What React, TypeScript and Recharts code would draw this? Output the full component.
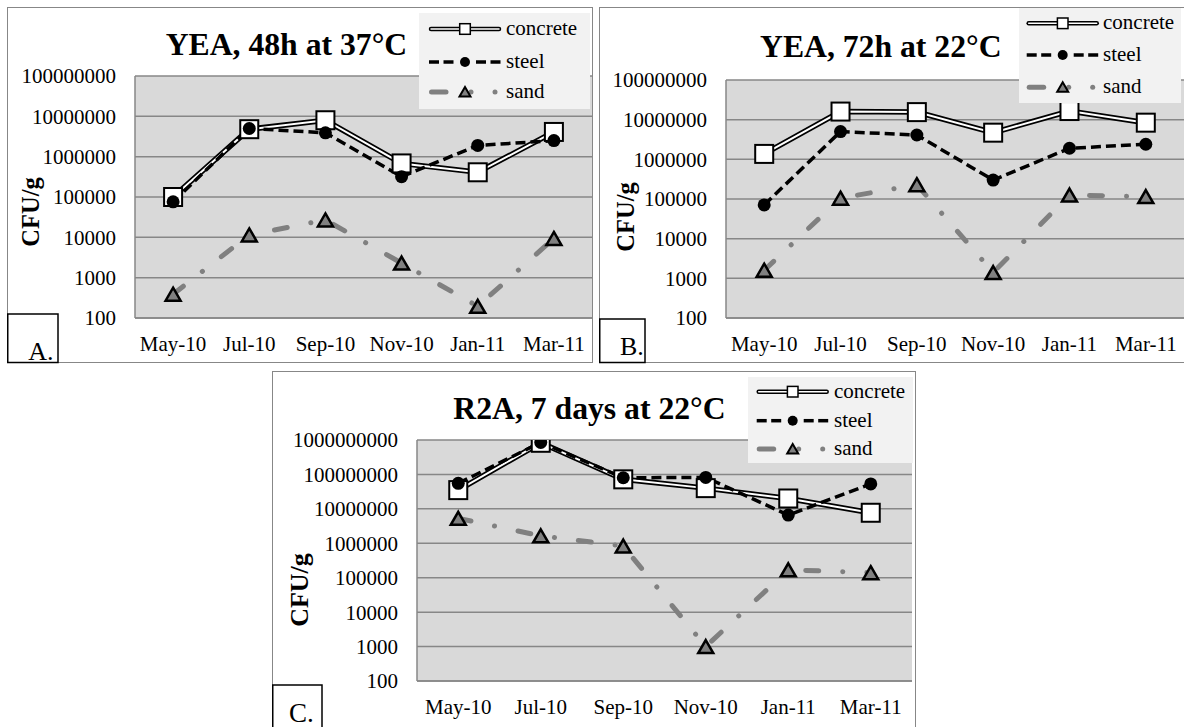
import { LineChart, Line, XAxis, YAxis, CartesianGrid, Legend } from 'recharts';

// sampling months (shared by all three panels)
const months = ['May-10', 'Jul-10', 'Sep-10', 'Nov-10', 'Jan-11', 'Mar-11'];

// A. YEA, 48h at 37°C
const concreteA = [100000, 4800000, 8000000, 680000, 410000, 4100000];
const steelA = [76000, 5000000, 3900000, 320000, 1900000, 2500000];
const sandA = [390, 11500, 27000, 2300, 195, 9400];

// B. YEA, 72h at 22°C
const concreteB = [1370000, 16000000, 15500000, 4700000, 16500000, 8400000];
const steelB = [71000, 5000000, 4100000, 300000, 1900000, 2400000];
const sandB = [1600, 105000, 230000, 1400, 126000, 115000];

// C. R2A, 7 days at 22°C
const concreteC = [35000000, 830000000, 72000000, 40000000, 20000000, 7700000];
const steelC = [55000000, 850000000, 80000000, 82000000, 6600000, 53000000];
const sandC = [5300000, 1650000, 830000, 1000, 170000, 140000];

const ticksAB = [100, 1000, 10000, 100000, 1000000, 10000000, 100000000];
const ticksC = [100, 1000, 10000, 100000, 1000000, 10000000, 100000000, 1000000000];

const SERIF = "'Liberation Serif', 'Times New Roman', Times, serif";
const GRID = '#878787';
const SAND = '#808080';

const buildRows = (c: number[], s: number[], d: number[]) =>
  months.map((m, i) => ({ month: m, concrete: c[i], steel: s[i], sand: d[i] }));

const squareDot = (p: any) => (
  <rect key={`sq-${p.index}`} x={p.cx - 9} y={p.cy - 9} width={18} height={18} fill="#fff" stroke="#000" strokeWidth={2} />
);

const circleDot = (p: any) => <circle key={`ci-${p.index}`} cx={p.cx} cy={p.cy} r={6.5} fill="#000" />;

const triangleDot = (p: any) => (
  <polygon
    key={`tr-${p.index}`}
    points={`${p.cx},${p.cy - 6.5} ${p.cx + 7.5},${p.cy + 6.5} ${p.cx - 7.5},${p.cy + 6.5}`}
    fill={SAND}
    stroke="#000"
    strokeWidth={2.5}
  />
);

interface LegendSpec {
  x: number;
  y: number;
  w: number;
  h: number;
  rows: number[];
  sx: number;
  tx: number;
}

const legendText = { fontFamily: SERIF, fontSize: 21, fill: '#000' };

function LegendSvg({ spec }: { spec: LegendSpec }) {
  const { w, h, rows, sx, tx } = spec;
  const [r1, r2, r3] = rows;
  const mid = sx + 36;
  return (
    <svg width={w} height={h} style={{ display: 'block', background: '#f2f2f2' }}>
      {/* concrete */}
      <line x1={sx + 2} x2={sx + 70} y1={r1} y2={r1} stroke="#000" strokeWidth={4.5} strokeLinecap="round" />
      <line x1={sx + 2} x2={sx + 70} y1={r1} y2={r1} stroke="#fff" strokeWidth={1.5} strokeLinecap="round" />
      <rect x={mid - 5.3} y={r1 - 5.3} width={10.6} height={10.6} fill="#fff" stroke="#000" strokeWidth={1.5} />
      {/* steel */}
      {[[0, 10], [14.5, 24.5], [47, 57], [61.5, 71.5]].map(([a, b]) => (
        <line key={a} x1={sx + a} x2={sx + b} y1={r2} y2={r2} stroke="#000" strokeWidth={3.5} />
      ))}
      <circle cx={mid} cy={r2} r={5} fill="#000" />
      {/* sand */}
      <line x1={sx + 2.5} x2={sx + 17} y1={r3} y2={r3} stroke={SAND} strokeWidth={5} strokeLinecap="round" />
      <circle cx={sx + 42} cy={r3} r={2.5} fill={SAND} />
      <circle cx={sx + 66} cy={r3} r={2.5} fill={SAND} />
      <polygon
        points={`${mid},${r3 - 5} ${mid + 5.5},${r3 + 4.5} ${mid - 5.5},${r3 + 4.5}`}
        fill={SAND}
        stroke="#000"
        strokeWidth={2}
      />
      <text x={tx} y={r1 + 6} style={legendText}>concrete</text>
      <text x={tx} y={r2 + 6} style={legendText}>steel</text>
      <text x={tx} y={r3 + 6} style={legendText}>sand</text>
    </svg>
  );
}

interface PanelSpec {
  x: number;
  y: number;
  w: number;
  h: number;
  chartW: number;
  chartH: number;
  top: number;
  right: number;
  yWidth: number;
  padX: number;
  ticks: number[];
  rows: ReturnType<typeof buildRows>;
  legend: LegendSpec;
  title: string;
  titleX: number;
  titleY: number;
  yLabelX: number;
  yLabelY: number;
  yLabelSize: number;
  tag: string;
  tagY: number;
  tagW: number;
  tagH: number;
  tagTx: number;
  tagTy: number;
  tagSize: number;
}

function Panel({ p }: { p: PanelSpec }) {
  const tickStyle = { fontFamily: SERIF, fontSize: 21, fill: '#000' };
  return (
    <>
      <div
        style={{
          position: 'absolute',
          left: p.x,
          top: p.y,
          width: p.w,
          height: p.h,
          border: `1.5px solid ${GRID}`,
          boxSizing: 'border-box',
        }}
      />
      <div style={{ position: 'absolute', left: p.x, top: p.y }}>
        <LineChart width={p.chartW} height={p.chartH} data={p.rows} margin={{ top: p.top, right: p.right, bottom: 0, left: 0 }}>
          <CartesianGrid vertical={false} stroke={GRID} strokeWidth={1.5} fill="#d9d9d9" fillOpacity={1} />
          <XAxis
            dataKey="month"
            interval={0}
            height={45}
            tickLine={false}
            tickSize={0}
            tickMargin={18}
            padding={{ left: p.padX, right: p.padX }}
            axisLine={{ stroke: GRID, strokeWidth: 1.5 }}
            tick={tickStyle}
          />
          <YAxis
            scale="log"
            type="number"
            domain={[p.ticks[0], p.ticks[p.ticks.length - 1]]}
            ticks={p.ticks}
            interval={0}
            allowDataOverflow
            width={p.yWidth}
            tickLine={false}
            tickSize={0}
            tickMargin={19}
            axisLine={{ stroke: GRID, strokeWidth: 1.5 }}
            tick={tickStyle}
          />
          <YAxis yAxisId="edge" orientation="right" width={0} tick={false} tickLine={false} axisLine={{ stroke: GRID, strokeWidth: 1.5 }} />
          <Line dataKey="concrete" type="linear" stroke="#000" strokeWidth={5.5} dot={false} activeDot={false} isAnimationActive={false} />
          <Line dataKey="concrete" type="linear" stroke="#fff" strokeWidth={2} dot={squareDot} activeDot={false} isAnimationActive={false} />
          <Line dataKey="steel" type="linear" stroke="#000" strokeWidth={3.5} strokeDasharray="10 5" dot={circleDot} activeDot={false} isAnimationActive={false} />
          <Line
            dataKey="sand"
            type="linear"
            stroke={SAND}
            strokeWidth={5}
            strokeDasharray="13 24 0.1 24"
            strokeLinecap="round"
            dot={triangleDot}
            activeDot={false}
            isAnimationActive={false}
          />
          <Legend
            layout="horizontal"
            verticalAlign="middle"
            align="center"
            wrapperStyle={{ left: p.legend.x, top: p.legend.y, width: p.legend.w, height: p.legend.h, margin: 0, padding: 0, lineHeight: 0 }}
            content={() => <LegendSvg spec={p.legend} />}
          />
        </LineChart>
      </div>
      <svg
        width={p.w}
        height={p.h}
        style={{ position: 'absolute', left: p.x, top: p.y, pointerEvents: 'none', overflow: 'visible' }}
      >
        <text x={p.titleX} y={p.titleY} style={{ fontFamily: SERIF, fontWeight: 'bold', fontSize: 31.7, fill: '#000' }}>
          {p.title}
        </text>
        <text
          x={p.yLabelX}
          y={p.yLabelY}
          transform={`rotate(-90 ${p.yLabelX} ${p.yLabelY})`}
          textAnchor="middle"
          style={{ fontFamily: SERIF, fontWeight: 'bold', fontSize: p.yLabelSize, fill: '#000' }}
        >
          CFU/g
        </text>
        <rect x={0.75} y={p.tagY} width={p.tagW - 0.75} height={p.tagH} fill="none" stroke="#000" strokeWidth={1.5} />
        <text x={p.tagTx} y={p.tagTy} style={{ fontFamily: SERIF, fontSize: p.tagSize, fill: '#000' }}>
          {p.tag}
        </text>
      </svg>
    </>
  );
}

const panelA: PanelSpec = {
  x: 7, y: 7, w: 586, h: 356, chartW: 586, chartH: 356, top: 69, right: 1, yWidth: 128, padX: 38.1,
  ticks: ticksAB, rows: buildRows(concreteA, steelA, sandA),
  legend: { x: 412, y: 6, w: 171, h: 96, rows: [16, 49, 79], sx: 10, tx: 87 },
  title: 'YEA, 48h at 37°C', titleX: 158.7, titleY: 48,
  yLabelX: 31.5, yLabelY: 205, yLabelSize: 24.5,
  tag: 'A.', tagY: 307, tagW: 51, tagH: 48.5, tagTx: 21.3, tagTy: 353, tagSize: 26,
};

const panelB: PanelSpec = {
  x: 599, y: 7, w: 586, h: 356, chartW: 586, chartH: 356, top: 73, right: 1, yWidth: 127, padX: 38.2,
  ticks: ticksAB, rows: buildRows(concreteB, steelB, sandB),
  legend: { x: 420, y: 1, w: 162, h: 95, rows: [15.3, 47, 79.3], sx: 7.7, tx: 84 },
  title: 'YEA, 72h at 22°C', titleX: 161, titleY: 50.3,
  yLabelX: 34.5, yLabelY: 210, yLabelSize: 24.5,
  tag: 'B.', tagY: 312, tagW: 46, tagH: 43.5, tagTx: 21, tagTy: 348, tagSize: 26,
};

const panelC: PanelSpec = {
  x: 272, y: 371, w: 644, h: 357, chartW: 643, chartH: 355, top: 69, right: 3, yWidth: 145, padX: 41.25,
  ticks: ticksC, rows: buildRows(concreteC, steelC, sandC),
  legend: { x: 476, y: 6, w: 165, h: 86, rows: [14.7, 43.7, 72], sx: 8.7, tx: 86 },
  title: 'R2A, 7 days at 22°C', titleX: 181.3, titleY: 48.3,
  yLabelX: 36, yLabelY: 219, yLabelSize: 26,
  tag: 'C.', tagY: 314, tagW: 50, tagH: 45, tagTx: 17, tagTy: 351, tagSize: 27,
};

export default function App() {
  return (
    <div
      style={{
        position: 'absolute',
        left: 0,
        top: 0,
        width: 1184,
        height: 727,
        overflow: 'hidden',
        background: '#fff',
      }}
    >
      <Panel p={panelA} />
      <Panel p={panelB} />
      <Panel p={panelC} />
    </div>
  );
}
